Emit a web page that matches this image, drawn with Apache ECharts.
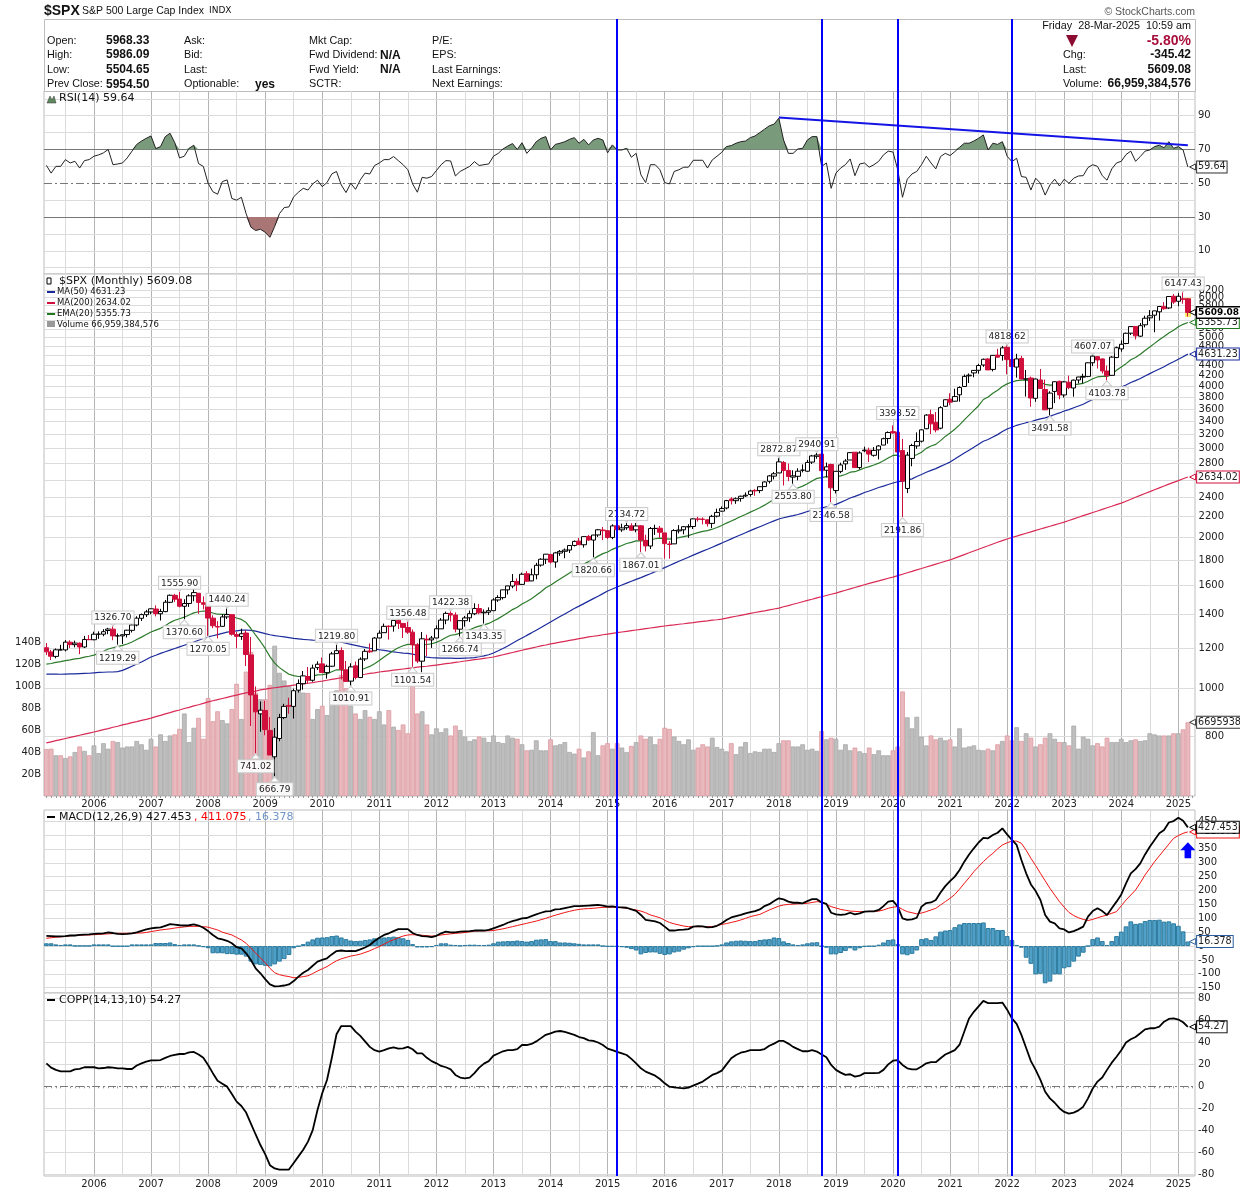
<!DOCTYPE html>
<html>
<head>
    <meta charset="utf-8">
    <title>$SPX S&amp;P 500 Large Cap Index</title>
    <script src="https://cdn.jsdelivr.net/npm/echarts@6/dist/echarts.min.js"></script>
    <style>html,body{margin:0;padding:0;background:#fff}</style>
</head>
<body>
    <div id="main" style="width:1240px;height:1192px;"></div>
    <script>
        // one row per calendar year: 2005 (Mar-Dec), 2006 ... 2024, 2025 (Jan-Mar)
        var opens = [
            1203,1180,1156,1191,1191,1234,1220,1228,1207,1249,
            1248,1280,1280,1302,1310,1270,1270,1278,1303,1335,1377,1400,
            1418,1437,1406,1420,1482,1530,1504,1455,1474,1527,1545,1479,
            1468,1378,1326,1327,1386,1400,1278,1267,1287,1164,968,888,
            902,823,729,793,873,923,919,990,1020,1054,1036,1098,
            1117,1073,1105,1171,1188,1087,1032,1107,1049,1143,1185,1186,
            1258,1289,1328,1329,1365,1345,1320,1292,1220,1131,1251,1247,
            1258,1312,1366,1408,1398,1310,1362,1380,1406,1440,1412,1416,
            1426,1498,1514,1569,1597,1631,1609,1690,1635,1682,1758,1806,
            1846,1783,1858,1873,1884,1924,1962,1930,2005,1972,2019,2065,
            2059,1996,2105,2067,2087,2105,2067,2105,1970,1919,2080,2082,
            2038,1937,1938,2057,2067,2094,2099,2171,2171,2164,2129,2201,
            2252,2285,2381,2363,2388,2415,2431,2477,2475,2521,2583,2645,
            2684,2816,2715,2633,2643,2718,2705,2821,2897,2926,2717,2790,
            2476,2703,2798,2848,2952,2751,2971,2980,2910,2984,3050,3144,
            3244,3236,2974,2499,2869,3038,3105,3288,3507,3385,3296,3645,
            3764,3731,3842,3992,4191,4248,4300,4406,4529,4317,4610,4602,
            4778,4519,4363,4540,4130,4149,3781,4113,3937,3610,3902,4087,
            3840,4070,3964,4112,4166,4181,4451,4578,4530,4285,4201,4559,
            4743,4862,5098,5258,5029,5298,5471,5537,5624,5758,5724,6041,
            5903,5969,5968.33
        ];
        var highs = [
            1229,1191,1199,1219,1246,1245,1243,1233,1270,1275,
            1295,1297,1310,1318,1326.7,1284,1280,1306,1340,1390,1407,1431,
            1441,1461,1438,1498,1535,1540,1555.9,1503,1538,1576,1545,1523,
            1471,1396,1359,1404,1440.24,1404,1293,1313,1303,1264,1007,940,
            943,875,832,888,930,956,997,1040,1081,1101,1113,1130,
            1150,1113,1180,1219.8,1205,1132,1120,1129,1151,1196,1227,1263,
            1303,1344,1333,1364,1370,1346,1356.48,1308,1229,1293,1277,1270,
            1333,1378,1420,1422.38,1415,1363,1392,1427,1475,1471,1434,1448,
            1510,1531,1570,1598,1687,1654,1698,1710,1730,1776,1814,1849,
            1851,1868,1884,1897,1925,1968,1991,2005,2019,2019,2075,2094,
            2065,2120,2118,2126,2134.72,2130,2133,2113,2021,2094,2116,2104,
            2038,1963,2073,2112,2103,2121,2178,2194,2188,2169,2214,2278,
            2301,2372,2401,2399,2418,2454,2484,2491,2520,2582,2658,2695,
            2872.87,2835,2801,2717,2742,2791,2848,2916,2940.91,2939,2815,2800,
            2708,2813,2860,2949,2954,2964,3028,3014,3022,3050,3155,3248,
            3338,3393.52,3137,2955,3068,3233,3280,3515,3588,3550,3646,3760,
            3870,3951,3994,4218,4238,4302,4429,4537,4546,4608,4744,4808,
            4818.62,4596,4637,4594,4307,4178,4140,4325,4120,3905,4080,4101,
            4095,4195,4121,4170,4232,4458,4607.07,4584,4541,4394,4587,4794,
            4932,5112,5265,5264,5342,5524,5669,5652,5768,5878,6025,6100,
            6128,6147.43,5986.09
        ];
        var lows = [
            1163,1137,1146,1188,1183,1201,1205,1168,1201,1246,
            1245,1253,1268,1280,1245,1219.29,1224,1261,1290,1327,1360,1385,
            1403,1389,1363,1416,1476,1484,1448,1370.6,1451,1489,1406,1435,
            1270.05,1316,1256,1324,1373,1272,1200,1247,1106,840,741.02,818,
            805,735,666.79,783,867,888,869,979,992,1020,1029,1086,
            1071,1044,1101,1170,1040,1028,1010.91,1040,1048,1132,1174,1186,
            1257,1289,1249,1295,1311,1258,1282,1101.54,1121,1075,1158,1202,
            1258,1312,1340,1357,1291,1266.74,1325,1354,1397,1403,1343.35,1398,
            1426,1485,1501,1536,1581,1560,1605,1627,1633,1647,1746,1767,
            1770,1737,1834,1814,1859,1915,1931,1905,1965,1820.66,2001,1972,
            1981,1980,2040,2048,2067,2056,2044,1867.01,1872,1893,2019,1993,
            1812,1810,1937,2034,2025,1992,2075,2147,2119,2098,2084,2188,
            2246,2271,2322,2329,2352,2405,2407,2417,2446,2520,2557,2605,
            2682,2533,2585,2553.8,2594,2691,2699,2796,2864,2603,2631,2346.58,
            2443,2681,2722,2848,2750,2729,2952,2822,2892,2856,3050,3070,
            3214,2855,2191.86,2447,2767,2999,3086,3280,3209,3234,3280,3633,
            3663,3725,3723,3992,4056,4164,4233,4368,4306,4279,4560,4495,
            4222,4115,4157,4124,3811,3637,3721,3954,3585,3491.58,3699,3764,
            3794,3943,3809,4049,4048,4166,4385,4335,4238,4103.78,4197,4547,
            4683,4845,5057,4954,5012,5235,5391,5120,5403,5675,5696,5832,
            5773,5837,5504.65
        ];
        var closes = [
            1180.59,1156.85,1191.5,1191.33,1234.18,1220.33,1228.81,1207.01,1249.48,1248.29,
            1280.08,1280.66,1294.87,1310.61,1270.09,1270.2,1276.66,1303.82,1335.85,1377.94,1400.63,1418.3,
            1438.24,1406.82,1420.86,1482.37,1530.62,1503.35,1455.27,1473.99,1526.75,1549.38,1481.14,1468.36,
            1378.55,1330.63,1322.7,1385.59,1400.38,1280,1267.38,1282.83,1166.36,968.75,896.24,903.25,
            825.88,735.09,797.87,872.81,919.14,919.32,987.48,1020.62,1057.08,1036.19,1095.63,1115.1,
            1073.87,1104.49,1169.43,1186.69,1089.41,1030.71,1101.6,1049.33,1141.2,1183.26,1180.55,1257.64,
            1286.12,1327.22,1325.83,1363.61,1345.2,1320.64,1292.28,1218.89,1131.42,1253.3,1246.96,1257.6,
            1312.41,1365.68,1408.47,1397.91,1310.33,1362.16,1379.32,1406.58,1440.67,1412.16,1416.18,1426.19,
            1498.11,1514.68,1569.19,1597.57,1630.74,1606.28,1685.73,1632.97,1681.55,1756.54,1805.81,1848.36,
            1782.59,1859.45,1872.34,1883.95,1923.57,1960.23,1930.67,2003.37,1972.29,2018.05,2067.56,2058.9,
            1994.99,2104.5,2067.89,2085.51,2107.39,2063.11,2103.84,1972.18,1920.03,2079.36,2080.41,2043.94,
            1940.24,1932.23,2059.74,2065.3,2096.95,2098.86,2173.6,2170.95,2168.27,2126.15,2198.81,2238.83,
            2278.87,2363.64,2362.72,2384.2,2411.8,2423.41,2470.3,2471.65,2519.36,2575.26,2647.58,2673.61,
            2823.81,2713.83,2640.87,2648.05,2705.27,2718.37,2816.29,2901.52,2913.98,2711.74,2760.17,2506.85,
            2704.1,2784.49,2834.4,2945.83,2750.52,2941.76,2980.38,2926.46,2976.74,3037.56,3140.98,3230.78,
            3225.52,2954.22,2584.59,2912.43,3044.31,3100.29,3271.12,3500.31,3363,3269.96,3621.63,3756.07,
            3714.24,3811.15,3972.89,4181.17,4204.11,4297.5,4395.26,4522.68,4307.54,4605.38,4567,4766.18,
            4515.55,4373.94,4530.41,4131.93,4132.15,3785.38,4130.29,3955,3585.62,3871.98,4080.11,3839.5,
            4076.6,3970.15,4109.31,4169.48,4179.83,4450.38,4588.96,4507.66,4288.05,4193.8,4567.8,4769.83,
            4845.65,5096.27,5254.35,5035.69,5277.51,5460.48,5522.3,5648.4,5762.48,5705.45,6032.38,5881.63,
            6040.53,5954.5,5609.08
        ];
        var volumes = [
            42.7,43,37,37,34.5,36,40,45,41,37,
            46,39,48,43,50,49,44,45,45,50,47,42,
            52,45,56,50,55,56,61,75,49,62,71,52,
            89,68,77,69,66,79,102,70,113,131,94,88,
            88,101,136.6,112,105,100,95,97,94,93.6,70,79,
            82,73.6,89,96,110,98,82,75,70,78,72,70,
            77,65,78,63,60,65,57,112,75,77,65,56,
            61.5,58,61.5,55,64,60,54,50,51.5,54,53,49,
            55,49,48,55,53,52,47,41.5,42,50.6,41.5,41.5,
            51.5,46,47,49,40,38.5,43,35,40.6,58,37,46,
            48,43,48,44,40,45.5,49,55,52,54,47,52,
            62,61,54,50,47,51.5,42,44,47,45,53,44.5,
            43,40.6,48,38,45,49,39,40.6,40,43,43,40,
            48,50.6,50.6,45,45,47,42,43,41,59,51.5,53,
            52,42,47,41.5,44,40.6,39,44,38,41.5,37,37,
            41.5,45,95,71.5,61.5,72,54,46,55,51.5,53,50.6,
            51.5,45,61.5,44,45,46,42,41.5,43,41.5,47,50,
            55,50.6,62.5,50,57,53,45,47,53,57,52,49,
            49,46,64,43,54,52,46,48,45,53,49,49,
            52,49,50.6,51.5,50,50.6,57,56,55,55,55,57,
            57,60.6,67
        ];
        var ema20 = [
            1116,1119,1125,1129,1134,1138,1143,1146,1152,1157,
            1163,1173,1184,1196,1203,1209,1216,1224,1235,1249,1263,1278,
            1293,1304,1315,1331,1350,1365,1374,1384,1398,1412,1419,1424,
            1420,1411,1403,1402,1402,1390,1379,1370,1350,1314,1274,1238,
            1199,1155,1121,1098,1081,1065,1058,1054,1054,1052,1056,1062,
            1063,1067,1077,1087,1087,1082,1084,1080,1086,1095,1104,1118,
            1134,1153,1170,1188,1203,1214,1222,1222,1214,1218,1221,1225,
            1233,1245,1261,1274,1278,1286,1295,1306,1319,1328,1336,1345,
            1360,1375,1393,1413,1433,1449,1471,1487,1506,1530,1556,1584,
            1603,1627,1650,1673,1696,1721,1741,1766,1786,1808,1832,1853,
            1867,1890,1907,1924,1941,1951,1965,1966,1962,1973,1984,1990,
            1985,1980,1988,1995,2004,2013,2028,2041,2053,2060,2073,2089,
            2108,2132,2153,2174,2197,2218,2242,2264,2288,2315,2347,2378,
            2420,2448,2467,2484,2505,2526,2554,2587,2618,2627,2639,2626,
            2634,2648,2665,2693,2699,2722,2746,2763,2783,2807,2838,2875,
            2908,2912,2880,2883,2898,2918,2952,3004,3038,3060,3113,3174,
            3225,3280,3346,3425,3500,3576,3654,3760,3805,3870,3925,3990,
            4040,4075,4100,4108,4110,4085,4090,4075,4030,4015,4020,4005,
            4010,4010,4020,4035,4050,4090,4135,4170,4180,4180,4218,4300,
            4366,4433,4512,4560,4630,4708,4785,4865,4948,5020,5100,5170,
            5250,5310,5355.73
        ];
        var ma50 = [
            1066,1066,1066,1065,1066,1067,1067,1068,1069,1070,
            1072,1074,1075,1076,1076,1078,1084,1094,1105,1116,1127,1140,
            1153,1162,1172,1181,1190,1199,1208,1217,1226,1235,1245,1255,
            1264,1271,1278,1285,1292,1296,1300,1304,1305,1303,1298,1291,
            1283,1277,1272,1268,1264,1260,1256,1253,1250,1248,1246,1245,
            1243,1241,1240,1238,1234,1228,1222,1216,1210,1205,1200,1196,
            1192,1188,1184,1180,1177,1174,1172,1168,1162,1157,1152,1149,
            1148,1147,1147,1147,1146,1146,1147,1148,1150,1154,1159,1165,
            1174,1186,1199,1213,1228,1243,1258,1273,1288,1304,1320,1337,
            1354,1371,1388,1405,1422,1440,1456,1473,1490,1507,1524,1542,
            1561,1575,1590,1604,1618,1632,1646,1660,1675,1690,1706,1722,
            1738,1755,1772,1789,1806,1823,1840,1857,1874,1891,1908,1927,
            1945,1964,1983,2002,2021,2040,2059,2078,2097,2116,2135,2154,
            2172,2185,2196,2206,2218,2232,2248,2262,2275,2285,2298,2306,
            2323,2345,2368,2392,2410,2430,2453,2470,2490,2510,2527,2545,
            2563,2578,2585,2596,2612,2640,2665,2692,2715,2738,2766,2794,
            2821,2860,2900,2940,2980,3020,3062,3105,3130,3165,3200,3245,
            3283,3310,3340,3360,3380,3395,3420,3440,3455,3480,3510,3535,
            3566,3590,3620,3650,3680,3720,3760,3795,3825,3860,3895,3940,
            3982,4020,4065,4100,4140,4190,4235,4280,4325,4370,4425,4470,
            4525,4575,4631.23
        ];
        var ma200 = [
            777,781,785,789,793,797,801,805,809,813,
            817,821,826,830,835,839,844,848,853,857,862,866,
            871,877,882,888,893,899,904,910,915,921,926,932,
            938,943,948,953,958,963,968,973,978,982,986,991,
            995,998,1001,1004,1007,1010,1013,1016,1019,1022,1025,1029,
            1032,1036,1040,1044,1048,1051,1055,1058,1062,1065,1069,1072,
            1076,1079,1082,1085,1088,1091,1094,1097,1100,1103,1105,1108,
            1111,1114,1118,1121,1125,1128,1132,1135,1139,1142,1146,1149,
            1153,1159,1165,1171,1177,1183,1189,1195,1201,1207,1213,1218,
            1224,1229,1234,1239,1244,1249,1254,1259,1264,1268,1272,1277,
            1281,1285,1289,1293,1297,1301,1305,1309,1313,1317,1321,1325,
            1329,1333,1336,1340,1343,1347,1350,1354,1358,1361,1365,1368,
            1372,1378,1384,1390,1396,1402,1408,1414,1420,1425,1431,1437,
            1443,1452,1460,1469,1477,1486,1495,1503,1512,1520,1529,1538,
            1546,1556,1566,1576,1586,1596,1606,1616,1626,1635,1645,1655,
            1664,1675,1686,1697,1708,1720,1731,1743,1754,1766,1777,1789,
            1800,1815,1830,1845,1860,1876,1891,1906,1921,1937,1952,1967,
            1982,1995,2008,2022,2035,2048,2062,2075,2088,2101,2115,2128,
            2141,2157,2173,2190,2206,2222,2238,2254,2271,2287,2303,2320,
            2336,2357,2378,2400,2421,2442,2463,2485,2506,2527,2549,2570,
            2591,2613,2634.02
        ];
        var rsi = [
            60.6,56,60,60,64,62,63,59,63.4,64,
            66,66.8,68,70,61,61.4,62,65,69,73,75,76.6,
            78,70.5,71.7,77.6,79.6,74,65,66,70.7,72.5,61.6,60,
            50,45,43.5,51,52,41,40,41.7,32,24,22,22.8,
            21,18,24.4,32,35.6,36,42,44.7,47,46,49.6,51.8,
            48,50.4,55.5,57,49,44.5,50,46.4,52,56,55.5,60.5,
            62,64,64,65.8,63.4,61,58,49.6,44.7,53.5,53,54,
            57.5,61,63.4,63.2,54.3,57,58.5,60,62.8,60.5,61,61.4,
            66,67.7,70.3,72,73.5,70,74,67.7,70.7,74.6,76.6,77.6,
            69.7,73,73.7,74.6,76,77,73.7,76,72.7,75.6,76.6,75.6,
            68,72.7,69.7,69.7,70.7,65.4,67.7,55,50.4,61,61,58,
            50.4,49.6,57,58,59.5,59.5,63.6,63.6,63.6,59,63.8,66,
            68.3,71.7,72.3,73.7,74.6,75,77,78,80,82,84,85,
            88.5,75.6,67.7,67.7,70.3,70.7,75.6,77.6,77.6,60,62,47,
            56,59,61,64.4,54.5,61.4,62,59.5,61,63,66.8,69,
            68.5,58,41.7,52.4,55.5,57,61,66,62,58.5,65.8,67.7,
            66.4,68.7,71.3,73.7,73.7,75,76.6,78.6,69.7,73.7,73,74.6,
            66,62.8,64.8,54,53.5,46,53,50,43,49,52.4,48.4,
            52.4,50,53,54.3,54.5,59.3,61,60,54.5,51.8,58.5,62,
            63,67,69,63,65.8,69,69.7,71.7,72.5,71,74.6,70.7,
            71.7,69.7,59.64
        ];
        var macd = [
            37,36,35,35,36,38,38,40,41,42,
            44,45,46,49,47,44,43,44,46,49,55,60,
            64,66,67,73,79,77,75,74,75,78,74,66,
            54,40,28,24,19,10,-4,-8,-26,-50,-80,-98,
            -119,-138,-145,-144,-142,-138,-126,-110,-96,-86,-71,-56,
            -50,-44,-30,-18,-16,-18,-17,-18,-12,-5,4,18,
            30,40,46,54,61,61,61,47,40,36,35,32,
            37,46,52,49,49,52,53,54,56,56,56,58,
            64,70,76,84,90,94,100,101,108,114,120,125,
            126,132,133,137,140,144,144,145,146,147,148,146,
            142,143,140,139,138,132,127,112,94,92,89,83,
            70,56,56,58,59,61,70,72,71,67,68,73,
            82,94,103,108,112,118,122,126,132,144,151,162,
            172,168,160,156,156,154,162,169,169,157,152,120,
            114,112,114,120,114,118,124,125,125,130,144,160,
            163,142,100,94,96,102,142,155,157,166,193,216,
            234,250,274,304,330,352,373,390,388,400,408,424,
            402,382,364,310,262,222,198,166,112,88,82,64,
            60,49,54,61,70,106,126,136,126,112,136,160,
            186,226,262,277,298,330,358,382,406,418,445,450,
            462,451,427.453
        ];
        var macdSignal = [
            28,30,32,33,35,37,38,39,40,40,
            41,42,43,44,45,46,46,46,46,47,47,49,
            52,55,58,60,62,65,67,69,71,71,71,70,
            68,63,58,50,45,40,31,22,10,-8,-25,-42,
            -60,-80,-96,-103,-107,-110,-114,-113,-110,-107,-99,-90,
            -82,-74,-63,-53,-46,-41,-36,-33,-29,-23,-17,-9,
            -2,7,16,23,30,36,40,41,40,39,37,36,
            37,40,42,44,46,47,49,51,54,55,55,55,
            56,59,62,66,70,74,78,82,86,90,95,100,
            106,111,116,121,125,129,132,134,135,136,138,139,
            140,140,140,138,136,133,130,126,120,112,107,102,
            93,85,80,76,72,70,70,70,70,70,70,73,
            78,81,85,89,94,100,106,110,114,122,130,137,
            144,148,150,151,152,153,154,157,160,158,150,142,
            137,132,129,126,125,124,124,125,125,126,130,136,
            140,142,132,124,120,116,119,124,130,136,148,160,
            172,186,205,226,246,268,286,304,320,334,350,364,
            372,378,378,370,345,316,290,262,235,208,184,160,
            140,121,110,102,96,92,96,102,107,112,118,124,
            145,166,184,202,228,256,280,304,325,346,367,388,
            398,406,411.075
        ];
        var macdHist = [
            10,10,6,4,6,6,1,1,1,1,
            6,6,6,6,-1,-1,-1,-1,6,6,6,6,
            6,11,11,11,13,7,4,6,6,6,1,-4,
            -8,-26,-26,-26,-29,-29,-31,-31,-38,-56,-66,-68,
            -71,-73,-66,-56,-47,-32,-8,-1,7,16,24,30,
            31,32,36,38,31,25,20,18,19,22,24,28,
            30,31,32,34,32,28,22,7,-5,-5,-5,-4,
            4,10,10,5,4,2,4,5,5,4,4,5,
            10,16,17,18,18,20,18,16,18,23,24,25,
            18,18,13,13,12,10,8,6,6,6,6,0,
            -2,-2,-2,-4,-6,-11,-16,-30,-25,-23,-23,-28,
            -32,-30,-23,-20,-13,-8,-4,-1,-1,-1,-1,1,
            6,13,17,19,20,19,18,18,22,24,25,31,
            29,17,11,6,4,6,10,13,14,-1,-6,-30,
            -30,-25,-18,-8,-16,-8,-2,-1,-1,5,13,22,
            24,7,-30,-33,-28,-16,25,28,22,35,52,56,
            58,68,78,83,83,83,83,85,65,65,58,58,
            36,22,4,-6,-42,-64,-102,-100,-134,-128,-102,-102,
            -80,-76,-56,-38,-24,0,25,31,18,4,18,36,
            52,71,89,80,82,90,94,94,95,88,89,82,
            73,53,16.378
        ];
        var copp = [
            21,17,15,13.7,13.7,13.7,15.5,16,17.4,17.4,
            17.4,16.4,16.7,17.4,17,16.4,16.4,15.8,15.8,19,21,22.5,
            23.7,23.7,24,26,27.7,28.6,29.5,29.5,31,31.4,29,26,
            19.5,12,5,2.4,-0.3,-7,-14,-18,-24,-34,-44,-53.6,
            -62,-72,-75,-76,-76,-76,-70,-64,-58,-50.5,-40,-21.6,
            -6.4,5.8,25.6,47.5,55,55,55,50,46,41,36,33,
            31.7,33,34.7,35.6,34.4,34.7,36,33.8,30,30,26,23,
            21,18.6,17.4,15.5,10.4,8,7.3,8,12,17,20.7,23,
            28,30,32,33,33,34,37.7,37.7,38.7,41,44,47,
            48.4,50,50.5,49.6,48.4,47,45,44,42,41.4,40,37.7,
            34.4,33,31.4,30,28.6,25,21,16.4,13.4,11.6,9.7,6.7,
            2.7,-0.3,-1,-1.5,-1.8,-1.2,0.6,2.4,4.3,7.3,10.4,12,
            14.3,20,25.6,28.6,30.7,31.7,33,33,33,34,37,39,
            41.4,41.4,39,36,34,32,32,33,31.7,29,26.5,19.5,
            15,12.5,10.4,11,8.8,9.7,12,12,12,12.2,15,20,
            23.4,24,19.5,16.4,15.5,15.5,18,21,22,22,25.6,29,
            31,33,38,50,62,68,73,78,76,76,76,76.5,
            70,62,57,47,35,23,15,5.8,-5,-11,-15,-20,
            -23.4,-25,-24,-22,-18.6,-11,-2,4.3,8,15,21.6,27,
            33,40,43,45,48.4,52,53,53,54.5,59,61.5,62,
            61,58.5,54.27
        ];

        var priceTicks = [800,1000,1200,1400,1600,1800,2000,2200,2400,2600,2800,3000,3200,3400,3600,3800,4000,4200,4400,4600,4800,5000,5200,5400,5600,5800,6000,6200];
        var volumeTicks = [20,40,60,80,100,120,140];
        var rsiLabels = [90,70,50,30,10];
        var rsiGrid = [0,10,20,40,60,80,90,100];
        var macdTicks = [-150,-100,-50,0,50,100,150,200,250,300,350,400,450];
        var coppTicks = [-80,-60,-40,-20,0,20,40,60,80];
        var coppGrid = [-80,-60,-40,-20,20,40,60,80];

        var peakLabels = [['2006-05',1326.70],['2007-07',1555.90],['2008-05',1440.24],['2010-04',1219.80],['2011-07',1356.48],['2012-04',1422.38],['2015-05',2134.72],['2018-01',2872.87],['2018-09',2940.91],['2020-02',3393.52],['2022-01',4818.62],['2023-07',4607.07],['2025-02',6147.43]];
        var troughLabels = [['2006-06',1219.29],['2007-08',1370.60],['2008-01',1270.05],['2008-11',741.02],['2009-03',666.79],['2010-07',1010.91],['2011-08',1101.54],['2012-06',1266.74],['2012-11',1343.35],['2014-10',1820.66],['2015-08',1867.01],['2018-04',2553.80],['2018-12',2346.58],['2020-03',2191.86],['2022-10',3491.58],['2023-10',4103.78]];
        var markerMonths = ['2015-03','2018-10','2020-02','2022-02'];
        var rsiTrend = [['2018-01',88.9],['2025-03',72.5]];
        var arrowPoint = [['2025-03',345]];

        // month categories, one spare at the end for the value tags
        var months = [];
        for (var y = 2005, m = 3; y < 2025 || m <= 4; m++) {
            if (m > 12) { m = 1; y++; }
            months.push(y + '-' + (m < 10 ? '0' + m : m));
        }
        var tagMonth = months[months.length - 1];

        var sans = 'Liberation Sans';
        var mono = 'DejaVu Sans';
        var RED = '#d00f3c';
        var GRID_LIGHT = '#dbdbdb';
        var GRID_YEAR = '#b4b4b4';

        var yearLines = months.filter(function (v) { return v.slice(5) === '01'; });
        var midLines = months.filter(function (v) { return v.slice(5) === '07'; });

        // helper series: vertical and horizontal grid lines of a panel, drawn through the axes
        function panelLines(index, yIndex, hLines) {
            var list = [];
            midLines.forEach(function (v) { list.push({ xAxis: v, lineStyle: { color: GRID_LIGHT, width: 1, type: 'solid' } }); });
            yearLines.forEach(function (v) { list.push({ xAxis: v, lineStyle: { color: GRID_YEAR, width: 1, type: 'solid' } }); });
            return {
                type: 'line', xAxisIndex: index, yAxisIndex: yIndex, data: [], silent: true, z: 0,
                markLine: {
                    silent: true, symbol: ['none', 'none'], animation: false, z: 1,
                    label: { show: false }, data: list.concat(hLines)
                }
            };
        }
        function hLine(v, color, type, text) {
            var item = { yAxis: v, lineStyle: { color: color, width: 1, type: type || 'solid' } };
            if (text) {
                item.label = { show: true, position: 'end', distance: 29, align: 'right', formatter: text, fontFamily: mono, fontSize: 10, color: '#222' };
            }
            return item;
        }
        function curve(name, xi, yi, data, color, width, z) {
            return {
                name: name, type: 'line', xAxisIndex: xi, yAxisIndex: yi, data: data, showSymbol: false, symbol: 'none',
                silent: true, z: z || 3, lineStyle: { color: color, width: width }
            };
        }
        function tag(xi, yi, value, text, color, z, bold) {
            return {
                type: 'scatter', xAxisIndex: xi, yAxisIndex: yi, data: [[tagMonth, value]], silent: true, z: z || 30,
                symbol: 'triangle', symbolRotate: 90, symbolSize: 6,
                itemStyle: { color: '#fff', borderColor: color, borderWidth: 1, opacity: 1 },
                label: {
                    show: true, position: 'right', distance: 1, formatter: text, fontFamily: mono, fontSize: bold ? 9 : 9.6,
                    fontWeight: bold ? 'bold' : 'normal', color: bold ? '#000' : '#222',
                    backgroundColor: '#fff', borderColor: color, borderWidth: bold ? 1.5 : 1, padding: [1, 1, 0, 1]
                }
            };
        }
        function priceNotes(list, up) {
            return {
                type: 'scatter', xAxisIndex: 1, yAxisIndex: 1, silent: true, z: 6,
                data: list, symbol: 'triangle', symbolSize: [9, 5], symbolRotate: up ? 180 : 0, symbolOffset: [0, up ? -3 : 3],
                itemStyle: { color: '#fff', borderColor: '#ccc', borderWidth: 1, opacity: 1 },
                label: {
                    show: true, position: up ? 'top' : 'bottom', distance: up ? -3 : 1, fontFamily: mono, fontSize: 9, color: '#222',
                    formatter: function (p) { return p.value[1].toFixed(2); },
                    backgroundColor: 'rgba(255,255,255,0.9)', borderColor: '#ccc', borderWidth: 1, padding: [2, 2, 1, 2]
                }
            };
        }
        function xAxisFor(index, showLabels) {
            return {
                type: 'category', gridIndex: index, data: months, boundaryGap: true,
                axisLine: { show: false }, splitLine: { show: false },
                axisTick: { show: showLabels, alignWithLabel: true, interval: 0, length: 2, lineStyle: { color: '#999' }, inside: false },
                axisLabel: {
                    show: showLabels, margin: 3, fontFamily: mono, fontSize: 10, color: '#222',
                    interval: function (i, v) { return v.slice(5) === '01'; },
                    formatter: function (v) { return v.slice(0, 4); }
                }
            };
        }
        function valueAxis(index, min, max, ticks, side, fmt) {
            return {
                type: 'value', gridIndex: index, min: min, max: max, position: side || 'right',
                axisLine: { show: false }, axisTick: { show: false }, splitLine: { show: false },
                axisLabel: {
                    show: !!ticks, customValues: ticks || undefined, margin: 3, fontFamily: mono, fontSize: 10, color: '#222',
                    formatter: fmt || function (v) { return String(v); }
                }
            };
        }

        var candles = months.slice(0, 241).map(function (m, i) { return [opens[i], closes[i], lows[i], highs[i]]; });
        var lastBar = months.slice(0, 241).map(function (m, i) { return i === 240 ? [highs[i], lows[i], lows[i], highs[i]] : ['-', '-', '-', '-']; });
        var volumeBars = volumes.map(function (v, i) {
            var down = closes[i] < (i ? closes[i - 1] : opens[i]);
            return {
                value: v,
                itemStyle: down ? { color: '#e8b9be', borderColor: '#dd9aa0', borderWidth: 0.8 } : { color: '#bebebe', borderColor: '#a8a8a8', borderWidth: 0.8 }
            };
        });
        var rsiHigh = rsi.map(function (v) { return Math.max(v, 70); });
        var rsiLow = rsi.map(function (v) { return Math.min(v, 30); });

        function txt(x, y, text, size, opt) {
            opt = opt || {};
            return {
                type: 'text', x: x, y: y, z: 100, silent: true,
                style: {
                    text: text, fontFamily: opt.font || sans, fontSize: size, fontWeight: opt.bold ? 'bold' : 'normal',
                    fill: opt.color || '#111', align: opt.align || 'left', verticalAlign: 'middle'
                }
            };
        }
        function dash(x, y, color) {
            return { type: 'rect', z: 100, silent: true, shape: { x: x, y: y - 1, width: 8, height: 2 }, style: { fill: color } };
        }

        var header = [
            { type: 'rect', z: 1, silent: true, shape: { x: 44.5, y: 19.5, width: 1151, height: 72 }, style: { fill: '#fff', stroke: '#bdbdbd' } },
            txt(44, 11, '$SPX', 14, { bold: true }), txt(82, 11, 'S&P 500 Large Cap Index', 10.5), txt(209, 11, 'INDX', 9, { font: mono }),
            txt(1195, 12, '© StockCharts.com', 10.5, { align: 'right', color: '#555' }),
            txt(47, 41, 'Open:', 10.8), txt(106, 41, '5968.33', 12, { bold: true }),
            txt(47, 55, 'High:', 10.8), txt(106, 55, '5986.09', 12, { bold: true }),
            txt(47, 70, 'Low:', 10.8), txt(106, 70, '5504.65', 12, { bold: true }),
            txt(47, 84, 'Prev Close:', 10.8), txt(106, 85, '5954.50', 12, { bold: true }),
            txt(184, 41, 'Ask:', 10.8), txt(184, 55, 'Bid:', 10.8), txt(184, 70, 'Last:', 10.8), txt(184, 84, 'Optionable:', 10.8), txt(255, 85, 'yes', 12, { bold: true }),
            txt(309, 41, 'Mkt Cap:', 10.8), txt(309, 55, 'Fwd Dividend:', 10.8), txt(380, 56, 'N/A', 12, { bold: true }),
            txt(309, 70, 'Fwd Yield:', 10.8), txt(380, 70, 'N/A', 12, { bold: true }), txt(309, 84, 'SCTR:', 10.8),
            txt(432, 41, 'P/E:', 10.8), txt(432, 55, 'EPS:', 10.8), txt(432, 70, 'Last Earnings:', 10.8), txt(432, 84, 'Next Earnings:', 10.8),
            txt(1191, 26, 'Friday  28-Mar-2025  10:59 am', 10.8, { align: 'right' }),
            { type: 'polygon', z: 100, silent: true, shape: { points: [[1066, 35], [1078, 35], [1072, 47]] }, style: { fill: '#8b0a32' } },
            txt(1191, 41, '-5.80%', 14, { bold: true, align: 'right', color: '#a80f3c' }),
            txt(1063, 55, 'Chg:', 10.8), txt(1191, 55, '-345.42', 12, { bold: true, align: 'right' }),
            txt(1063, 70, 'Last:', 10.8), txt(1191, 70, '5609.08', 12, { bold: true, align: 'right' }),
            txt(1063, 84, 'Volume:', 10.8), txt(1191, 84, '66,959,384,576', 12, { bold: true, align: 'right' }),
            { type: 'polygon', z: 100, silent: true, shape: { points: [[47, 103], [50, 96], [52, 100], [54, 96], [56, 103]] }, style: { fill: '#5f8a5f', stroke: '#333', lineWidth: 0.5 } },
            txt(59, 98, 'RSI(14) 59.64', 11, { font: mono }),
            { type: 'rect', z: 100, silent: true, shape: { x: 47, y: 278, width: 4, height: 6 }, style: { fill: '#fff', stroke: '#000' } },
            txt(59, 281, '$SPX (Monthly) 5609.08', 11, { font: mono }),
            dash(47, 292, '#1a2a9c'), txt(57, 292, 'MA(50) 4631.23', 8.5, { font: mono }),
            dash(47, 303, RED), txt(57, 303, 'MA(200) 2634.02', 8.5, { font: mono }),
            dash(47, 314, '#1f7a1f'), txt(57, 314, 'EMA(20) 5355.73', 8.5, { font: mono }),
            { type: 'rect', z: 100, silent: true, shape: { x: 47, y: 321, width: 8, height: 6 }, style: { fill: '#999' } },
            txt(57, 325, 'Volume 66,959,384,576', 8.5, { font: mono }),
            dash(47, 817, '#000'), txt(59, 817, 'MACD(12,26,9) 427.453', 11, { font: mono }),
            txt(194, 817, ', 411.075', 11, { font: mono, color: '#f00' }), txt(248, 817, ', 16.378', 11, { font: mono, color: '#6f95c9' }),
            dash(47, 1000, '#000'), txt(59, 1000, 'COPP(14,13,10) 54.27', 11, { font: mono })
        ];

        var series = [
            // RSI
            panelLines(0, 0, rsiGrid.map(function (v) { return hLine(v, GRID_LIGHT); }).concat([hLine(70, '#777'), hLine(30, '#777'), hLine(50, '#777', [8, 3, 2, 3])])),
            {
                type: 'line', xAxisIndex: 0, yAxisIndex: 0, data: rsiHigh, symbol: 'none', silent: true, z: 2, lineStyle: { width: 0 },
                areaStyle: { origin: 70, color: '#7a9a7c', opacity: 1 }
            },
            {
                type: 'line', xAxisIndex: 0, yAxisIndex: 0, data: rsiLow, symbol: 'none', silent: true, z: 2, lineStyle: { width: 0 },
                areaStyle: { origin: 30, color: '#a97575', opacity: 1 }
            },
            curve('RSI', 0, 0, rsi, '#222', 1),
            curve('RSI trend', 0, 0, rsiTrend, '#1414e6', 2, 4),
            tag(0, 0, 59.64, '59.64', '#333'),
            // price and volume
            panelLines(1, 1, priceTicks.map(function (v) { return hLine(v, GRID_LIGHT, 'solid', String(v)); })),
            {
                name: 'Volume', type: 'bar', xAxisIndex: 1, yAxisIndex: 2, data: volumeBars, barWidth: '100%', silent: true, z: 2
            },
            curve('MA(200)', 1, 1, ma200, '#d92a55', 1.2),
            curve('MA(50)', 1, 1, ma50, '#1a2a9c', 1.2),
            curve('EMA(20)', 1, 1, ema20, '#2a7a2a', 1.2),
            {
                type: 'candlestick', xAxisIndex: 1, yAxisIndex: 1, data: lastBar, barWidth: 6, silent: true, z: 3,
                itemStyle: { color: '#fbe96a', color0: '#fbe96a', borderColor: '#fbe96a', borderColor0: '#fbe96a' }
            },
            {
                name: '$SPX', type: 'candlestick', xAxisIndex: 1, yAxisIndex: 1, data: candles, barWidth: 5, silent: true, z: 4,
                itemStyle: { color: '#fff', color0: RED, borderColor: '#000', borderColor0: RED, borderWidth: 1 }
            },
            priceNotes(peakLabels, true),
            priceNotes(troughLabels, false),
            tag(1, 1, 5609.08, '5609.08', '#000', 31, true),
            tag(1, 1, 5355.73, '5355.73', '#1f7a1f'),
            tag(1, 1, 4631.23, '4631.23', '#1a2a9c'),
            tag(1, 1, 2634.02, '2634.02', RED),
            tag(1, 2, 67, '6695938', '#333'),
            // MACD
            panelLines(2, 3, macdTicks.map(function (v) { return hLine(v, GRID_LIGHT); })),
            {
                name: 'Histogram', type: 'bar', xAxisIndex: 2, yAxisIndex: 3, data: macdHist, barWidth: '100%', silent: true, z: 2,
                itemStyle: { color: '#4f9fc6', borderColor: '#2a7a9f', borderWidth: 1 }
            },
            curve('Signal', 2, 3, macdSignal, '#f01414', 1),
            curve('MACD', 2, 3, macd, '#000', 1.8, 4),
            {
                type: 'scatter', xAxisIndex: 2, yAxisIndex: 3, data: arrowPoint, silent: true, z: 8, symbolSize: [15, 16],
                symbol: 'path://M5 0 L10 5 L7.2 5 L7.2 10 L2.8 10 L2.8 5 L0 5 Z', itemStyle: { color: '#0000ff', opacity: 1 }
            },
            tag(2, 3, 411.075, '411.075', '#f01414', 30),
            tag(2, 3, 427.453, '427.453', '#000', 31),
            tag(2, 3, 16.378, '16.378', '#2a5f9f'),
            // Coppock
            panelLines(3, 4, coppGrid.map(function (v) { return hLine(v, GRID_LIGHT); }).concat([hLine(0, '#777', [8, 3, 2, 3])])),
            curve('COPP', 3, 4, copp, '#000', 1.8),
            tag(3, 4, 54.27, '54.27', '#000'),
            // hand drawn blue markers that run through every panel
            {
                type: 'line', xAxisIndex: 4, yAxisIndex: 5, data: [], silent: true, z: 40,
                markLine: {
                    silent: true, symbol: ['none', 'none'], animation: false, z: 40, label: { show: false },
                    lineStyle: { color: '#0000ff', width: 2, type: 'solid' },
                    data: markerMonths.map(function (v) { return { xAxis: v }; })
                }
            }
        ];

        var panelGrid = { left: 44, width: 1151, show: true, backgroundColor: '#fff', borderColor: '#bdbdbd', borderWidth: 1 };
        function gridAt(top, height) { return Object.assign({}, panelGrid, { top: top, height: height }); }

        var myChart = echarts.init(document.getElementById('main'), null, { renderer: 'canvas' });
        myChart.setOption({
            animation: false,
            backgroundColor: '#fff',
            tooltip: { show: false },
            graphic: header,
            grid: [
                gridAt(91, 183), gridAt(274, 522), gridAt(810, 183), gridAt(993, 183),
                { left: 44, width: 1151, top: 19, height: 1157, show: false }
            ],
            xAxis: [xAxisFor(0, false), xAxisFor(1, true), xAxisFor(2, false), xAxisFor(3, true), xAxisFor(4, false)],
            yAxis: [
                valueAxis(0, -3.7, 104.6, rsiLabels),
                {
                    type: 'log', logBase: 2, gridIndex: 1, min: 609, max: 6690, position: 'right',
                    axisLine: { show: false }, axisTick: { show: false }, splitLine: { show: false }, minorSplitLine: { show: false },
                    axisLabel: { show: false }
                },
                valueAxis(1, 0, 474.5, volumeTicks, 'left', function (v) { return v + 'B'; }),
                valueAxis(2, -169, 490, macdTicks),
                valueAxis(3, -81.9, 85.2, coppTicks),
                { type: 'value', gridIndex: 4, min: 0, max: 1, show: false }
            ],
            series: series
        });
    </script>
</body>
</html>
